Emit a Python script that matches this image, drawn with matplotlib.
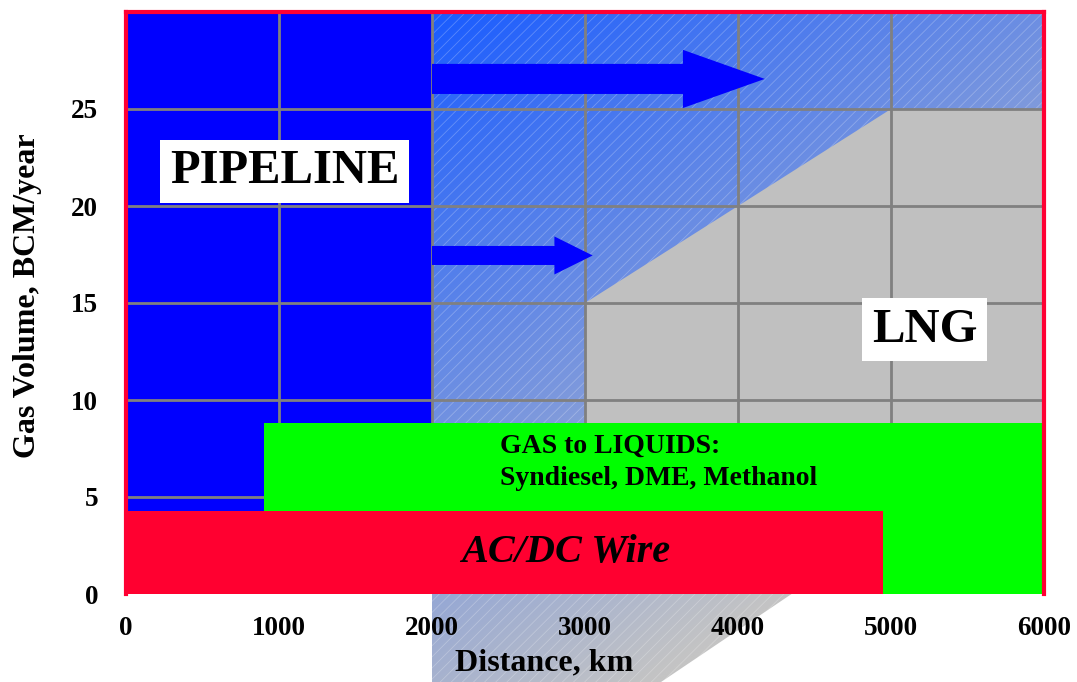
import numpy as np
import matplotlib.pyplot as plt
from matplotlib.patches import Polygon
from matplotlib.colors import to_rgb

plt.rcParams['font.family'] = ['Liberation Serif', 'DejaVu Serif']
plt.rcParams['font.weight'] = 'bold'
plt.rcParams['hatch.linewidth'] = 0.6

# axis ticks
x_ticks = [0, 1000, 2000, 3000, 4000, 5000, 6000]
y_ticks = [0, 5, 10, 15, 20, 25]

# regions: distance (km) vs gas volume (BCM/year)
pipeline_x = [0, 2000]
pipeline_y = [0, 30]
trans_x = [2000, 2000, 6000, 6000, 4350, 3485]
trans_y = [-4.6, 30, 30, 0, 0, -4.6]
lng_x = [3000, 3000, 5000, 6000, 6000]
lng_y = [0, 15, 25, 25, 0]
gtl_x = [900, 6000]
gtl_y = [0, 8.8]
wire_x = [0, 4950]
wire_y = [0, 4.3]

# arrows
arrow_start = [2000, 2000]
arrow_neck = [3640, 2800]
arrow_tip = [4175, 3050]
arrow_y = [26.55, 17.45]
arrow_shaft = [1.55, 0.98]
arrow_head = [3.0, 1.96]

fig = plt.figure(figsize=(10.77, 6.82), dpi=100)
ax = fig.add_axes([126 / 1077, 88 / 682, 918 / 1077, 582 / 682])
ax.set_facecolor('white')

# pipeline zone
ax.fill_between(pipeline_x, pipeline_y[0], pipeline_y[1], color='#0000ff', lw=0, zorder=1)

# transition zone: diagonal gradient + white hatch, spills below the axis
verts = list(zip(trans_x, trans_y))
gx = np.linspace(2000, 6000, 300)
gy = np.linspace(min(trans_y), 30, 300)
GX, GY = np.meshgrid(gx, gy)
t = np.clip((GX - 2000) / 8263 + (30 - GY) / 41.7, 0, 1)[..., None]
c0 = np.array(to_rgb('#1a5cff'))
c1 = np.array(to_rgb('#c4c4c4'))
img = c0 + t * (c1 - c0)
im = ax.imshow(img, extent=[2000, 6000, min(trans_y), 30], origin='lower',
               aspect='auto', zorder=1, interpolation='bilinear')
clip = Polygon(verts, closed=True, transform=ax.transData, fc='none', ec='none')
im.set_clip_path(clip)
im.set_clip_box(fig.bbox)
hatch = Polygon(verts, closed=True, fc='none', ec=(1, 1, 1, 0.25), lw=0,
                hatch='///', clip_on=False, zorder=1.1)
ax.add_patch(hatch)

# LNG zone
ax.fill(lng_x, lng_y, color='#c0c0c0', lw=0, zorder=1.5)

# arrows
for s, n, tip, y, w, h in zip(arrow_start, arrow_neck, arrow_tip, arrow_y, arrow_shaft, arrow_head):
    xs = [s, n, n, tip, n, n, s]
    ys = [y - w / 2, y - w / 2, y - h / 2, y, y + h / 2, y + w / 2, y + w / 2]
    ax.fill(xs, ys, color='#0000ff', lw=0, zorder=3)

# GTL and wire bars
ax.fill_between(gtl_x, gtl_y[0], gtl_y[1], color='#00ff00', lw=0, zorder=3)
ax.fill_between(wire_x, wire_y[0], wire_y[1], color='#ff0030', lw=0, zorder=3.2)

ax.set_xlim(0, 6000)
ax.set_ylim(0, 30)
ax.set_xticks(x_ticks)
ax.set_yticks(y_ticks)
ax.tick_params(length=0, labelsize=19.5)
ax.tick_params(axis='x', pad=16)
ax.tick_params(axis='y', pad=20)
ax.set_axisbelow(False)
ax.grid(True, color='#808080', lw=2)

for side in ['top', 'left', 'right']:
    ax.spines[side].set_color('#ff0033')
    ax.spines[side].set_linewidth(3)
    ax.spines[side].set_zorder(5)
ax.spines['bottom'].set_visible(False)

box = dict(boxstyle='square,pad=0.2', fc='white', ec='none')
ax.text(1036, 21.78, 'PIPELINE', fontsize=35, ha='center', va='center', bbox=box, zorder=4)
ax.text(5222, 13.63, 'LNG', fontsize=35, ha='center', va='center', bbox=box, zorder=4)
ax.text(2444, 6.8, 'GAS to LIQUIDS:\nSyndiesel, DME, Methanol', fontsize=20,
        ha='left', va='center', linespacing=1.4, zorder=4)
ax.text(2873, 2.16, 'AC/DC Wire', fontsize=29, style='italic', ha='center', va='center', zorder=4)

fig.text(28 / 1077, 1 - 296 / 682, 'Gas Volume, BCM/year', rotation=90, fontsize=23,
         ha='center', va='center')
fig.text(544 / 1077, 1 - 663 / 682, 'Distance, km', fontsize=23, ha='center', va='center')

fig.savefig('out.png', dpi=100)
